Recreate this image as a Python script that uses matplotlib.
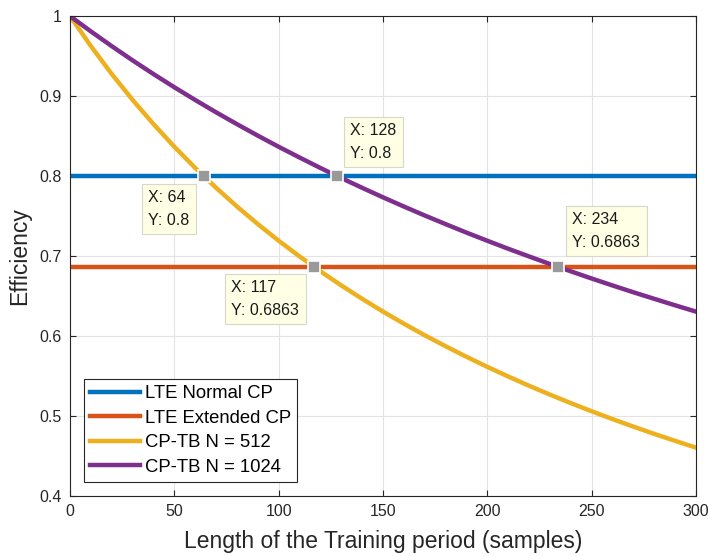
import matplotlib
matplotlib.use("Agg")
from matplotlib import pyplot as plt

plt.rcParams['font.family'] = ['Liberation Sans', 'DejaVu Sans']

# training length (samples) and efficiency of the CP-TB schemes
x_tb = [0, 10, 20, 30, 40, 50, 60, 70, 80, 90, 100, 110, 120, 130, 140, 150,
        160, 170, 180, 190, 200, 210, 220, 230, 240, 250, 260, 270, 280, 290, 300]
eff_512 = [1.0, 0.9624, 0.9275, 0.8951, 0.8649, 0.8366, 0.8101, 0.7853, 0.7619,
           0.7399, 0.7191, 0.6995, 0.6809, 0.6632, 0.6465, 0.6305, 0.6154, 0.6009,
           0.5872, 0.5740, 0.5614, 0.5494, 0.5378, 0.5267, 0.5161, 0.5059, 0.4961,
           0.4867, 0.4776, 0.4689, 0.4604]
eff_1024 = [1.0, 0.9808, 0.9624, 0.9446, 0.9275, 0.9110, 0.8951, 0.8797, 0.8649,
            0.8505, 0.8366, 0.8232, 0.8101, 0.7975, 0.7853, 0.7734, 0.7619, 0.7507,
            0.7399, 0.7293, 0.7191, 0.7091, 0.6995, 0.6900, 0.6809, 0.6719, 0.6632,
            0.6547, 0.6465, 0.6384, 0.6305]

# LTE reference efficiencies (constant)
eff_normal = 0.8
eff_extended = 0.6863

# data tips
tip_x = [64, 128, 117, 234]
tip_y = [0.8, 0.8, 0.6863, 0.6863]
tip_text = ["X: 64\nY: 0.8", "X: 128\nY: 0.8", "X: 117\nY: 0.6863", "X: 234\nY: 0.6863"]

fig = plt.figure(figsize=(7.08, 5.56), dpi=100)
ax = fig.add_axes([0.099, 0.108, 0.884, 0.863])

lw = 3.2
ax.plot([0, 300], [eff_normal, eff_normal], color='#0072BD', lw=lw, label='LTE Normal CP')
ax.plot([0, 300], [eff_extended, eff_extended], color='#D95319', lw=lw, label='LTE Extended CP')
ax.plot(x_tb, eff_512, color='#EDB120', lw=lw, label='CP-TB N = 512')
ax.plot(x_tb, eff_1024, color='#7E2F8E', lw=lw, label='CP-TB N = 1024')

# text anchor offsets from the marker, in pixels (box pad adds ~6 px)
offsets = [(-14, -14), (13, 15), (-15, -13), (14, 17)]
aligns = [('right', 'top'), ('left', 'bottom'), ('right', 'top'), ('left', 'bottom')]
for x, y, s, off, (ha, va) in zip(tip_x, tip_y, tip_text, offsets, aligns):
    ax.plot(x, y, 's', ms=9, mfc='#999999', mec='white', mew=1.2, zorder=5)
    ax.annotate(s, (x, y), xytext=off, textcoords='offset pixels', ha=ha, va=va,
                multialignment='left', fontsize=11.5, linespacing=1.65, zorder=6,
                color='#1a1a1a',
                bbox=dict(boxstyle='square,pad=0.4', fc='#FFFFE6', ec='#D8D8C8', lw=0.8))

ax.set_xlim(0, 300)
ax.set_ylim(0.4, 1)
ax.set_xticks([0, 50, 100, 150, 200, 250, 300])
ax.set_yticks([0.4, 0.5, 0.6, 0.7, 0.8, 0.9, 1.0])
ax.set_yticklabels(['0.4', '0.5', '0.6', '0.7', '0.8', '0.9', '1'])
ax.tick_params(direction='in', labelsize=11.5, length=4, top=True, right=True,
               color='#262626', labelcolor='#262626', pad=6)
ax.grid(True, color='#E3E3E3', lw=0.8)
ax.set_axisbelow(True)
for sp in ax.spines.values():
    sp.set_color('#262626')
    sp.set_linewidth(0.8)

ax.set_xlabel('Length of the Training period (samples)', fontsize=16.5, color='#262626',
              labelpad=8)
ax.set_ylabel('Efficiency', fontsize=16.5, color='#262626', labelpad=6)

leg = ax.legend(loc='lower left', fontsize=13.3, handlelength=2.7, borderaxespad=0.75,
                fancybox=False, framealpha=1, edgecolor='#262626', borderpad=0.35,
                labelspacing=0.4, handletextpad=0.25)
leg.get_frame().set_linewidth(0.8)

fig.savefig('out.png', dpi=100)
